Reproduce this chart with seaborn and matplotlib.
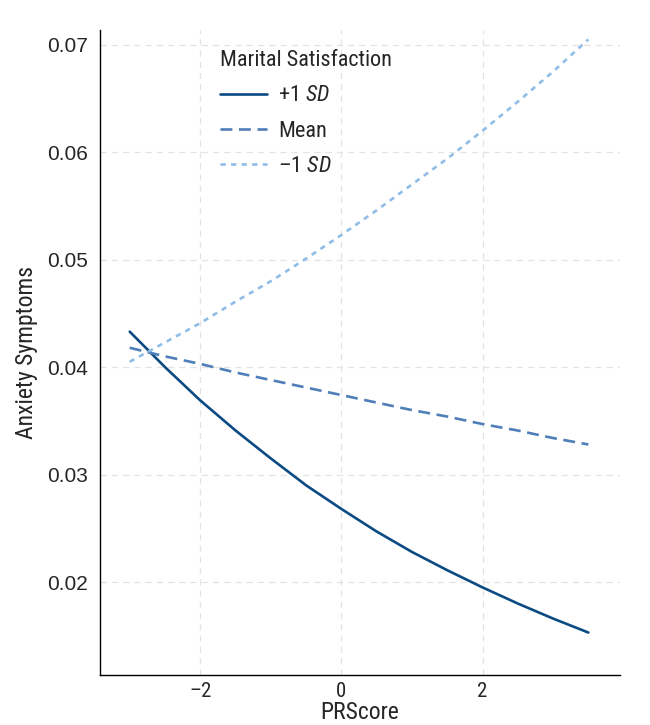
import matplotlib
matplotlib.use("Agg")
import matplotlib.pyplot as plt
import seaborn as sns
import pandas as pd
from matplotlib import font_manager

x_vals = [-3.0, -2.5, -2.0, -1.5, -1.0, -0.5, 0.0, 0.5, 1.0, 1.5, 2.0, 2.5, 3.0, 3.5]
plus_sd = [0.0433, 0.0400, 0.0369, 0.0341, 0.0315, 0.0290, 0.0268, 0.0247, 0.0228, 0.0211, 0.0195, 0.0180, 0.0166, 0.0153]
mean_vals = [0.0418, 0.0410, 0.0403, 0.0395, 0.0388, 0.0381, 0.0374, 0.0367, 0.0360, 0.0354, 0.0347, 0.0341, 0.0334, 0.0328]
minus_sd = [0.0405, 0.0423, 0.0441, 0.0461, 0.0480, 0.0501, 0.0523, 0.0546, 0.0570, 0.0594, 0.0620, 0.0647, 0.0675, 0.0705]
x_ticks = [-2, 0, 2]
y_ticks = [0.02, 0.03, 0.04, 0.05, 0.06, 0.07]

names = {f.name for f in font_manager.fontManager.ttflist}
candidates = ['Roboto Condensed', 'Archivo Narrow', 'Liberation Sans Narrow', 'PT Sans Narrow',
              'Fira Sans Condensed', 'IBM Plex Sans Condensed', 'Encode Sans Condensed',
              'Barlow Semi Condensed', 'Open Sans Condensed', 'Liberation Sans']
narrow = next(c for c in candidates if c in names)

sns.set_style("white")
plt.rcParams['font.family'] = [narrow, 'DejaVu Sans']
plt.rcParams['mathtext.fontset'] = 'custom'
plt.rcParams['mathtext.it'] = narrow + ':italic'
plt.rcParams['mathtext.rm'] = narrow

lab_plus = '+1 $\\it{SD}$'
lab_minus = '\u20131 $\\it{SD}$'
df = pd.DataFrame({
    'PRScore': x_vals * 3,
    'Anxiety': plus_sd + mean_vals + minus_sd,
    'group': [lab_plus] * len(x_vals) + ['Mean'] * len(x_vals) + [lab_minus] * len(x_vals),
})

fig = plt.figure(figsize=(6.5, 7.25), dpi=100)
ax = fig.add_axes([0.154, 0.069, 0.80, 0.89])
palette = ['#0b4a82', '#4f7fb8', '#8fbde8']
order = [lab_plus, 'Mean', lab_minus]
sns.lineplot(data=df, x='PRScore', y='Anxiety', hue='group', hue_order=order,
             palette=palette, ax=ax, linewidth=1.9)
styles = ['-', (0, (4.5, 2.5)), (0, (2, 2))]
for line, ls in zip(ax.lines[:3], styles):
    line.set_linestyle(ls)

ax.set_xlim(-3.42, 3.95)
ax.set_ylim(0.01135, 0.0714)
ax.set_xticks(x_ticks)
ax.set_xticklabels(['\u20132', '0', '2'], fontsize=15)
ax.set_yticks(y_ticks)
ax.set_yticklabels([f'{v:.2f}' for v in y_ticks], family=['Liberation Sans', 'DejaVu Sans'], fontsize=15)
ax.tick_params(axis='both', length=0)
ax.tick_params(axis='y', pad=9)
ax.tick_params(axis='x', pad=5)
ax.grid(True, color='#e3e3e3', linestyle=(0, (5, 4)), linewidth=0.9)
ax.set_axisbelow(True)
for s in ['top', 'right']:
    ax.spines[s].set_visible(False)
for s in ['left', 'bottom']:
    ax.spines[s].set_color('black')
    ax.spines[s].set_linewidth(1.0)
ax.set_xlabel('PRScore', fontsize=17, labelpad=0)
ax.set_ylabel('Anxiety Symptoms', fontsize=17, labelpad=6)

handles, labels = ax.get_legend_handles_labels()
for h, ls in zip(handles, styles):
    h.set_linestyle(ls)
leg = ax.legend(handles, labels, title='Marital Satisfaction', loc='upper left',
                bbox_to_anchor=(0.205, 0.989), frameon=False, fontsize=16,
                title_fontsize=16, handlelength=2.1, handletextpad=0.5,
                labelspacing=0.64, alignment='left', borderaxespad=0.2)

fig.savefig('out.png', dpi=100)
